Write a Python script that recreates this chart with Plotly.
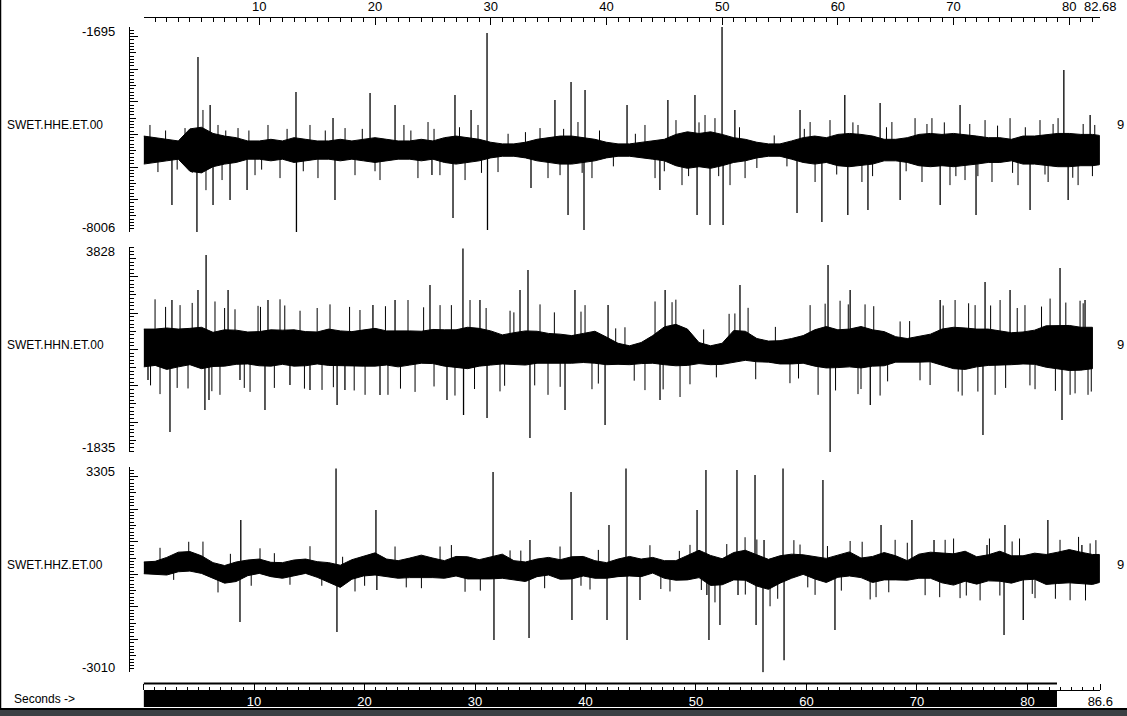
import plotly.graph_objects as go

W, H = 1127, 716


def px_x(p):
    return p / W


def px_y(p):
    return (H - p) / H


FONT = "Liberation Sans"

# ---------------- data (counts vs seconds) ----------------
# envelope sample times (s); HHE and HHZ run to 82.6 s, HHN stops at 82 s
t_env = [0, 1, 2, 3, 4, 5, 6, 7, 8, 9, 10, 11, 12, 13, 14, 15, 16, 17, 18, 19,
         20, 21, 22, 23, 24, 25, 26, 27, 28, 29, 30, 31, 32, 33, 34, 35, 36, 37, 38, 39,
         40, 41, 42, 43, 44, 45, 46, 47, 48, 49, 50, 51, 52, 53, 54, 55, 56, 57, 58, 59,
         60, 61, 62, 63, 64, 65, 66, 67, 68, 69, 70, 71, 72, 73, 74, 75, 76, 77, 78, 79,
         80, 81, 82, 82.6]

# ---- SWET.HHE.ET.00 ----
hhe_range = [-8006, -1695]
hhe_mean = -5480
hhe_amp = [430, 380, 330, 280, 650, 700, 510, 430, 380, 280,
           280, 330, 280, 380, 330, 280, 280, 330, 280, 330,
           380, 330, 280, 280, 330, 280, 380, 430, 380, 330,
           240, 190, 190, 240, 330, 380, 430, 430, 380, 330,
           240, 190, 190, 240, 280, 330, 480, 560, 510, 560,
           480, 380, 330, 240, 190, 190, 280, 380, 430, 380,
           480, 510, 480, 430, 330, 330, 380, 480, 510, 480,
           510, 480, 430, 380, 380, 330, 430, 430, 480, 510,
           510, 480, 480, 450]
hhe_spk_t = [2.45, 4.61, 4.70, 5.75, 6.00, 7.47, 8.94, 13.17, 13.21, 16.37,
             16.54, 19.57, 21.73, 24.92, 26.74, 26.91, 28.30, 29.68, 29.72, 33.48,
             35.55, 36.68, 36.94, 38.06, 38.15, 41.78, 44.62, 45.31, 47.65, 47.83,
             48.95, 49.99, 50.08, 51.10, 56.47, 56.73, 58.62, 60.60, 60.86, 62.60,
             63.65, 65.38, 68.84, 70.56, 71.94, 76.61, 79.53, 79.90, 81.80]
hhe_spk_v = [-7165, -7994, -2625, -4097, -7165, -7012, -6704, -3699, -7990, -4496,
             -7012, -3729, -4097, -6245, -7564, -3790, -4251, -1888, -7932, -6643,
             -3944, -7472, -3392, -7932, -3637, -4097, -6704, -3944, -3790, -7472,
             -7780, -1704, -7780, -4251, -7411, -4251, -7687, -3790, -7472, -7319,
             -4036, -7012, -7165, -4097, -7472, -7319, -3024, -7012, -4404]
hhe_frg_t = [0.55, 1.24, 1.90, 2.90, 3.58, 4.20, 5.13, 5.39, 6.43, 6.78,
             7.10, 8.16, 9.10, 9.63, 10.20, 10.75, 11.79, 12.40, 13.80, 14.38,
             15.07, 15.70, 17.41, 18.27, 18.90, 20.00, 20.43, 22.50, 23.10, 23.71,
             24.58, 25.10, 25.61, 27.30, 27.78, 28.90, 29.20, 30.63, 31.50, 33.00,
             34.26, 34.95, 35.99, 36.30, 37.54, 37.90, 38.75, 39.40, 40.60, 42.50,
             43.33, 44.20, 45.00, 46.01, 46.53, 47.10, 48.00, 48.52, 49.38, 49.70,
             50.68, 51.50, 51.98, 53.00, 54.50, 55.60, 57.10, 57.60, 58.03, 59.32,
             59.90, 61.30, 61.74, 62.08, 63.00, 64.20, 64.67, 65.90, 66.67, 67.27,
             67.70, 68.13, 69.20, 69.69, 70.20, 70.99, 71.40, 72.10, 72.72, 73.32,
             73.80, 74.88, 75.10, 75.57, 76.20, 77.47, 77.90, 78.17, 78.60, 79.03,
             80.30, 80.76, 81.20, 82.00, 82.20]
hhe_frg_dv = [770, -675, 600, -600, 675, -700, 1230, -1230, 770, -920,
              600, 675, 600, -770, -600, 770, -860, 650, -650, 770,
              -860, 600, 675, -770, 650, -650, -920, 770, 600, -860,
              860, 650, -770, 700, -920, 770, -700, -675, 500, 550,
              675, -860, -770, 650, 860, -700, -860, 600, -500, 500,
              770, -860, -650, 920, -1075, -800, 850, 1075, 980, -800,
              -1075, 700, -860, -550, 450, -500, 650, 860, -980, 920,
              -750, 850, 770, -980, -800, 700, 860, -650, 980, -980,
              800, 980, 850, -1075, -800, -920, 800, -800, 920, -980,
              750, 980, -700, -1075, 700, 920, -750, -980, 800, 980,
              -850, -1075, 800, -800, 770]

# ---- SWET.HHN.ET.00 ----
hhn_range = [-1835, 3828]
hhn_base = [1040, 1060, 1020, 1040, 1080, 1040, 1000, 1040, 1060, 1040,
            1020, 1040, 1060, 1040, 1020, 1040, 1060, 1040, 1020, 1040,
            1060, 1040, 1020, 1040, 1060, 1080, 1040, 1020, 1040, 1060,
            1040, 1000, 1020, 1040, 1060, 1040, 1020, 1000, 1040, 1060,
            960, 880, 840, 900, 1000, 1100, 1120, 1060, 900, 840,
            880, 1080, 1100, 980, 940, 920, 950, 1000, 1040, 1060,
            1020, 1040, 1060, 1040, 1020, 1000, 980, 1000, 1040, 1060,
            1040, 1020, 1040, 1060, 1040, 1020, 1040, 1060, 1080, 1060,
            1040, 1020, 1040]
hhn_amp = [520, 500, 570, 520, 500, 570, 470, 500, 470, 440,
           470, 500, 470, 500, 470, 440, 500, 470, 470, 500,
           520, 470, 500, 470, 440, 470, 500, 520, 570, 520,
           470, 400, 440, 470, 440, 400, 400, 380, 400, 440,
           380, 290, 260, 290, 380, 520, 570, 500, 290, 260,
           290, 440, 400, 320, 290, 320, 350, 380, 500, 570,
           520, 520, 570, 500, 470, 350, 320, 350, 380, 500,
           570, 570, 520, 500, 470, 440, 440, 470, 570, 590,
           620, 590, 570]
hhn_spk_t = [0.38, 2.28, 2.45, 4.70, 5.30, 5.40, 5.65, 7.30, 8.33, 10.49,
             10.75, 12.65, 14.38, 16.72, 17.40, 19.82, 20.43, 21.73, 24.75, 26.22,
             27.60, 27.65, 29.07, 29.68, 32.53, 33.22, 33.39, 36.42, 37.28, 39.88,
             40.14, 44.63, 45.07, 51.54, 59.15, 59.33, 61.06, 62.80, 68.84, 72.54,
             72.72, 74.88, 79.20, 79.37, 81.36]
hhn_spk_v = [158, -1273, 2361, 2636, -668, 3600, -392, 2636, 158, -668,
             2361, 20, -117, -530, -117, 2223, -255, 2361, 2774, -392,
             3780, -805, 2361, -888, 2636, 3187, -1438, -668, 2636, -1081,
             2223, -392, 2636, 2774, 3324, -1824, 2636, -530, 2361, -1356,
             2856, 2636, 3241, -943, 2361]
hhn_frg_t = [0.60, 0.99, 1.42, 1.90, 2.90, 3.15, 3.84, 4.20, 5.90, 6.17,
             6.60, 7.00, 7.90, 8.70, 9.20, 9.89, 10.10, 11.30, 11.79, 12.20,
             13.52, 13.90, 15.00, 15.42, 16.11, 16.40, 17.80, 18.20, 18.70, 19.14,
             20.90, 21.12, 22.20, 22.85, 23.46, 24.20, 25.10, 25.62, 26.60, 26.91,
             28.21, 28.60, 29.60, 30.80, 31.20, 31.67, 32.00, 33.80, 34.26, 34.95,
             35.50, 36.00, 37.80, 38.15, 38.75, 39.30, 40.80, 41.60, 42.40, 43.33,
             44.20, 44.90, 45.67, 46.00, 46.36, 47.22, 48.40, 49.50, 50.60, 51.10,
             52.24, 52.90, 54.60, 55.86, 56.60, 57.60, 58.29, 58.90, 59.80, 60.19,
             60.90, 61.74, 62.00, 62.35, 63.10, 63.65, 64.30, 65.38, 66.20, 67.10,
             67.97, 69.10, 70.13, 70.40, 70.74, 71.30, 71.86, 72.10, 73.20, 73.59,
             74.02, 74.50, 75.50, 76.17, 76.60, 77.04, 77.60, 78.34, 78.80, 79.70,
             80.07, 80.50, 80.93, 81.20, 81.62, 81.90]
hhn_frg_dv = [-1050, 1320, -1290, 1150, -1100, 1180, -1155, 1200, -1150, 1320,
              -1290, 1100, 1045, -1100, -1210, 1180, 1150, -1100, 1320, 1150,
              1045, -1100, 1100, -1155, 1180, -1100, 1150, -1150, 1045, -1290,
              1150, -1290, -1100, 1320, -1210, 1100, -1100, 1180, 1200, -1290,
              1320, -1150, 1100, -1155, -1000, 1045, 1000, -1050, 1180, -1290,
              1000, -1050, 1000, 1180, -1155, -1000, 700, 770, -700, -1020,
              1320, -1200, 1180, 1250, -1430, -1020, 650, -650, 900, 910,
              1045, -800, 700, -880, -800, 1180, -1290, 1200, -1150, 1320,
              1200, -1290, -1150, 1180, 1150, -1290, -900, 770, 800, -850,
              -1020, 1150, 1320, -1200, -1290, 1250, 1180, -1200, 1150, -1290,
              1320, -1100, 1100, 1180, -1050, -1155, 1100, 1320, -1200, 1250,
              -1290, -1250, 1320, 1250, -1290, -1200]

# ---- SWET.HHZ.ET.00 ----
hhz_range = [-3010, 3305]
hhz_base = [200, 200, 250, 380, 400, 300, 120, 0, 80, 200,
            250, 150, 120, 200, 250, 150, 60, -60, 150, 250,
            320, 200, 150, 200, 250, 200, 150, 250, 200, 150,
            200, 250, 120, 80, 200, 250, 150, 200, 250, 150,
            120, 200, 250, 200, 280, 150, 120, 200, 320, 120,
            80, 250, 280, 120, 0, 150, 250, 300, 200, 120,
            250, 320, 200, 150, 250, 200, 120, 250, 280, 200,
            150, 250, 120, 200, 250, 150, 200, 250, 150, 200,
            250, 200, 150, 180]
hhz_amp = [180, 200, 270, 300, 300, 270, 240, 270, 300, 240,
           220, 220, 240, 240, 220, 240, 300, 340, 300, 300,
           340, 270, 270, 300, 340, 300, 270, 300, 340, 300,
           340, 370, 300, 300, 270, 270, 300, 340, 300, 270,
           240, 270, 300, 270, 240, 270, 300, 370, 420, 460,
           400, 420, 460, 480, 460, 420, 370, 300, 340, 370,
           340, 370, 300, 400, 420, 370, 300, 370, 400, 460,
           480, 460, 420, 400, 460, 420, 370, 400, 460, 480,
           510, 480, 460, 430]
hhz_spk_t = [8.33, 8.40, 16.63, 16.71, 20.08, 20.16, 30.20, 30.28, 33.31, 33.39,
             36.94, 37.02, 40.05, 40.22, 41.69, 41.78, 42.90, 47.83, 48.60, 48.68,
             48.86, 49.81, 51.28, 51.37, 52.84, 52.93, 53.53, 53.62, 55.26, 55.35,
             58.71, 59.75, 63.73, 66.40, 68.31, 72.89, 74.36, 74.44, 76.02, 78.15,
             81.09]
hhz_spk_v = [-1463, 1669, 3250, -1770, 1976, -480, 3142, -2016, -1954, 1055,
             2527, -1401, -1401, 1515, 3250, -2016, -787, 1976, 3204, -634,
             -2016, -1555, 3204, -634, 3050, -1555, -3004, 1055, 3250, -2636,
             2896, -1709, 1515, 1669, 1055, 901, -1862, 1515, -1401, 1669,
             901]
hhz_frg_t = [1.42, 2.60, 3.90, 5.13, 6.43, 7.50, 9.30, 10.06, 11.30, 12.65,
             14.38, 15.40, 17.20, 18.27, 19.10, 21.73, 22.70, 24.01, 25.62, 26.60,
             27.78, 29.10, 31.67, 32.60, 34.66, 35.99, 37.80, 38.58, 39.30, 43.76,
             44.70, 45.49, 46.30, 47.22, 48.20, 49.38, 50.40, 51.98, 52.00, 53.00,
             54.14, 54.80, 56.20, 56.73, 57.40, 58.03, 59.10, 60.30, 61.06, 62.10,
             62.79, 63.30, 64.40, 64.95, 66.00, 67.54, 68.80, 69.27, 70.00, 70.56,
             71.10, 72.29, 73.10, 74.00, 75.06, 75.70, 76.80, 77.04, 78.80, 79.20,
             80.07, 80.80, 81.40, 81.80, 82.30]
hhz_frg_dv = [615, -550, 600, 705, -675, 550, -550, 550, 500, -520,
              615, -500, 600, -675, -600, 705, -600, -675, 705, 650,
              -735, -650, 615, 650, -675, 705, -600, -615, 600, 615,
              -600, -675, 600, 705, -800, -980, 850, 860, -900, 950,
              -980, -900, 800, 615, -700, -830, 750, -750, 705, 800,
              -920, -850, -800, 860, 850, -920, -900, 860, 950, -980,
              -900, -920, 900, -900, 860, 900, -850, -980, -950, 860,
              -1045, 950, -1000, 800, 900]

station_labels = ["SWET.HHE.ET.00", "SWET.HHN.ET.00", "SWET.HHZ.ET.00"]
right_labels = ["9", "9", "9"]

view_end = 82.68      # seconds shown in the window (top axis)
total_len = 86.6      # total record length (bottom scroll axis)
top_major = [10, 20, 30, 40, 50, 60, 70, 80]
bottom_major = [10, 20, 30, 40, 50, 60, 70, 80]

# ---------------- geometry ----------------
x_dom = [px_x(143.6), px_x(1100.3)]
panel_tops = [26.7, 246.7, 466.7]
panel_h = 205.7
y_axis_x = px_x(129.3)

fig = go.Figure()

panels = [
    (hhe_range, [hhe_mean] * len(hhe_amp), hhe_amp, hhe_spk_t, hhe_spk_v, hhe_frg_t, hhe_frg_dv),
    (hhn_range, hhn_base, hhn_amp, hhn_spk_t, hhn_spk_v, hhn_frg_t, hhn_frg_dv),
    (hhz_range, hhz_base, hhz_amp, hhz_spk_t, hhz_spk_v, hhz_frg_t, hhz_frg_dv),
]

NUMFONT = dict(family=FONT, size=13, color="black")
TXTFONT = dict(family=FONT, size=12, color="black")

annotations = []
for i, (rng, base, amp, st, sv, ft, fdv) in enumerate(panels):
    yname = "y" if i == 0 else f"y{i + 1}"
    ylay = "yaxis" if i == 0 else f"yaxis{i + 1}"
    top = panel_tops[i]
    dom = [px_y(top + panel_h), px_y(top)]
    n = len(amp)
    tt = t_env[:n]
    hi = [base[k] + amp[k] for k in range(n)]
    lo = [base[k] - amp[k] for k in range(n)]
    fig.add_trace(go.Scatter(
        x=tt + tt[::-1], y=hi + lo[::-1], mode="lines", fill="toself",
        fillcolor="black", line=dict(color="black", width=1),
        xaxis="x", yaxis=yname, hoverinfo="skip", showlegend=False))
    fx, fy = [], []
    for t, dv in zip(ft, fdv):
        b = base[min(int(round(t)), n - 1)]
        fx += [t, t, None]
        fy += [b, b + dv, None]
    fig.add_trace(go.Scatter(
        x=fx, y=fy, mode="lines", line=dict(color="black", width=1),
        xaxis="x", yaxis=yname, hoverinfo="skip", showlegend=False))
    sx, sy = [], []
    for t, v in zip(st, sv):
        b = base[min(int(round(t)), n - 1)]
        sx += [t, t, None]
        sy += [b, v, None]
    fig.add_trace(go.Scatter(
        x=sx, y=sy, mode="lines", line=dict(color="black", width=1.3),
        xaxis="x", yaxis=yname, hoverinfo="skip", showlegend=False))

    lo_r, hi_r = rng
    major = list(range(int(lo_r // 1000 + 1) * 1000, int(hi_r) + 1, 1000))
    fig.layout[ylay] = dict(
        domain=dom, range=[lo_r, hi_r], anchor="free", position=y_axis_x,
        side="left", showline=True, linecolor="black", linewidth=1,
        ticks="inside", ticklen=8, tickwidth=1, tickcolor="black",
        tickmode="array", tickvals=major + [lo_r, hi_r],
        showticklabels=False, showgrid=False, zeroline=False,
        minor=dict(ticks="inside", dtick=100, tick0=0, ticklen=3.5,
                   tickcolor="black", tickwidth=1, showgrid=False),
    )
    ov = f"yaxis{i + 4}"
    ovname = f"y{i + 4}"
    mids = [v for v in range(int(lo_r // 500 + 1) * 500, int(hi_r) + 1, 500) if v % 1000 != 0]
    fig.layout[ov] = dict(
        domain=dom, range=[lo_r, hi_r], anchor="free", position=y_axis_x,
        overlaying=yname, side="left", showline=False,
        ticks="inside", ticklen=6, tickwidth=1, tickcolor="black",
        tickmode="array", tickvals=mids, showticklabels=False,
        showgrid=False, zeroline=False,
    )
    fig.add_trace(go.Scatter(x=[None], y=[None], xaxis="x", yaxis=ovname,
                             showlegend=False, hoverinfo="skip"))

    annotations.append(dict(text=str(hi_r), x=px_x(117), xref="paper", xanchor="right",
                            y=hi_r, yref=yname, yanchor="middle", yshift=-5,
                            showarrow=False, font=NUMFONT))
    annotations.append(dict(text=str(lo_r), x=px_x(117), xref="paper", xanchor="right",
                            y=lo_r, yref=yname, yanchor="middle", yshift=5,
                            showarrow=False, font=NUMFONT))
    mid = (lo_r + hi_r) / 2
    annotations.append(dict(text=station_labels[i], x=px_x(5), xref="paper", xanchor="left",
                            y=mid, yref=yname, yanchor="middle", yshift=5,
                            showarrow=False, font=TXTFONT))
    annotations.append(dict(text=right_labels[i], x=px_x(1120), xref="paper", xanchor="center",
                            y=mid, yref=yname, yanchor="middle", yshift=5,
                            showarrow=False, font=NUMFONT))

fig.layout.xaxis = dict(
    domain=x_dom, range=[0, view_end], anchor="free", position=px_y(16.5),
    side="top", showline=True, linecolor="black", linewidth=1,
    ticks="inside", ticklen=7, tickcolor="black", tickwidth=1,
    tickmode="array", tickvals=[0] + top_major + [view_end],
    ticktext=[""] + [str(v) for v in top_major] + [f"{view_end:g}"],
    tickfont=NUMFONT,
    minor=dict(ticks="inside", dtick=1, tick0=0, ticklen=4, tickcolor="black", showgrid=False),
    showgrid=False, zeroline=False,
)

fig.layout.xaxis2 = dict(
    domain=x_dom, range=[0, total_len], anchor="free", position=px_y(689.5),
    side="top", overlaying="x", showline=True, linecolor="black", linewidth=1,
    ticks="outside", ticklen=6, tickcolor="black", tickwidth=1,
    tickmode="array", tickvals=[0] + bottom_major + [total_len], showticklabels=False,
    minor=dict(ticks="outside", dtick=1, tick0=0, ticklen=3, tickcolor="black", showgrid=False),
    showgrid=False, zeroline=False,
)
fig.layout.xaxis3 = dict(
    domain=x_dom, range=[0, total_len], anchor="free", position=px_y(692),
    side="bottom", overlaying="x", showline=False, ticks="",
    tickmode="array", tickvals=bottom_major + [total_len],
    ticktext=[str(v) for v in bottom_major] + [f"<span style='color:black'>{total_len:g}</span>"],
    tickfont=dict(family=FONT, size=13, color="white"),
    showgrid=False, zeroline=False,
)
fig.add_trace(go.Scatter(x=[None], y=[None], xaxis="x2", yaxis="y", showlegend=False, hoverinfo="skip"))
fig.add_trace(go.Scatter(x=[None], y=[None], xaxis="x3", yaxis="y", showlegend=False, hoverinfo="skip"))

shapes = [
    dict(type="rect", xref="x2", yref="paper", x0=0, x1=view_end,
         y0=px_y(707), y1=px_y(690.5), fillcolor="black", line=dict(width=0), layer="below"),
    dict(type="line", xref="x2", yref="paper", x0=0, x1=view_end,
         y0=px_y(683.5), y1=px_y(683.5), line=dict(color="black", width=2)),
    dict(type="line", xref="paper", yref="paper", x0=px_x(0.5), x1=px_x(0.5),
         y0=px_y(709), y1=1, line=dict(color="black", width=1.5)),
    dict(type="rect", xref="paper", yref="paper", x0=0, x1=1, y0=0, y1=px_y(709),
         fillcolor="#3b4044", line=dict(width=0)),
    dict(type="line", xref="paper", yref="paper", x0=0, x1=1, y0=px_y(709), y1=px_y(709),
         line=dict(color="black", width=2)),
]

annotations.append(dict(text="Seconds ->", x=px_x(12), xref="paper", xanchor="left",
                        y=px_y(699), yref="paper", yanchor="middle", showarrow=False,
                        font=TXTFONT))

fig.update_layout(
    width=W, height=H, autosize=False,
    margin=dict(l=0, r=0, t=0, b=0, pad=0, autoexpand=False),
    paper_bgcolor="white", plot_bgcolor="rgba(0,0,0,0)",
    showlegend=False, annotations=annotations, shapes=shapes,
    font=dict(family=FONT, size=12, color="black"),
)

fig.write_html(
    "out.html",
    config={"displayModeBar": False, "responsive": False},
    post_script=("document.body.style.margin='0';document.body.style.overflow='hidden';"
                 "var gd=document.getElementById('{plot_id}');"
                 "Plotly.relayout(gd,{width:%d,height:%d});" % (W, H)),
)
